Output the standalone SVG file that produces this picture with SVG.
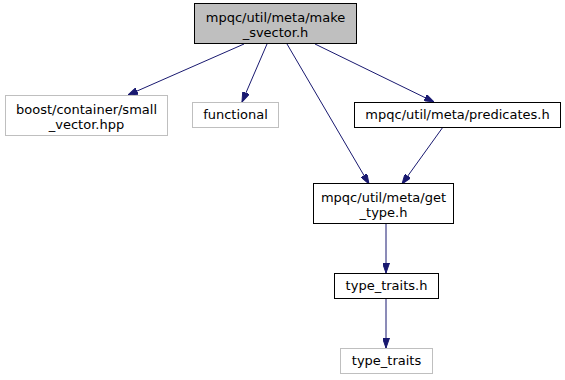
<svg xmlns="http://www.w3.org/2000/svg" width="565" height="380" viewBox="0 0 565 380">
  <style>
    .node rect { stroke-width: 1; }
    .ext rect { fill: #ffffff; stroke: #bfbfbf; }
    .int rect { fill: #ffffff; stroke: #000000; }
    .root rect { fill: #bfbfbf; stroke: #000000; }
    text { font-family: "DejaVu Sans", "Liberation Sans", sans-serif; font-size: 13px; fill: #000000; text-anchor: middle; }
    .edge { stroke: #191970; stroke-width: 1; fill: none; }
  </style>
  <defs>
    <marker id="arrow" viewBox="0 0 10 7" refX="10" refY="3.5" markerWidth="10" markerHeight="7" markerUnits="userSpaceOnUse" orient="auto">
      <path d="M0,0 L10,3.5 L0,7 Z" fill="#191970" stroke="#191970"/>
    </marker>
  </defs>

  <g id="edges">
    <line class="edge" x1="244" y1="44" x2="128" y2="95" marker-end="url(#arrow)"/>
    <line class="edge" x1="267" y1="44" x2="242" y2="102" marker-end="url(#arrow)"/>
    <line class="edge" x1="287" y1="44" x2="369" y2="184" marker-end="url(#arrow)"/>
    <line class="edge" x1="315" y1="44" x2="434" y2="102" marker-end="url(#arrow)"/>
    <line class="edge" x1="443" y1="127" x2="402" y2="184" marker-end="url(#arrow)"/>
    <line class="edge" x1="386" y1="223" x2="386" y2="273" marker-end="url(#arrow)"/>
    <line class="edge" x1="386" y1="299" x2="386" y2="348" marker-end="url(#arrow)"/>
  </g>

  <g id="make_svector" class="node root">
    <rect x="194.5" y="3.5" width="162" height="40"/>
    <text x="275.5" y="22">mpqc/util/meta/make</text>
    <text x="275.5" y="37">_svector.h</text>
  </g>

  <g id="small_vector" class="node ext">
    <rect x="5.5" y="95.5" width="162" height="40"/>
    <text x="86.5" y="114">boost/container/small</text>
    <text x="86.5" y="129">_vector.hpp</text>
  </g>

  <g id="functional" class="node ext">
    <rect x="192.5" y="102.5" width="86" height="25"/>
    <text x="235.5" y="119">functional</text>
  </g>

  <g id="predicates" class="node int">
    <rect x="354.5" y="102.5" width="206" height="25"/>
    <text x="457.5" y="119">mpqc/util/meta/predicates.h</text>
  </g>

  <g id="get_type" class="node int">
    <rect x="313.5" y="183.5" width="140" height="40"/>
    <text x="383.5" y="202">mpqc/util/meta/get</text>
    <text x="383.5" y="217">_type.h</text>
  </g>

  <g id="type_traits_h" class="node int">
    <rect x="334.5" y="273.5" width="104" height="25"/>
    <text x="386.5" y="290">type_traits.h</text>
  </g>

  <g id="type_traits" class="node ext">
    <rect x="340.5" y="348.5" width="92" height="25"/>
    <text x="386.5" y="365">type_traits</text>
  </g>
</svg>
